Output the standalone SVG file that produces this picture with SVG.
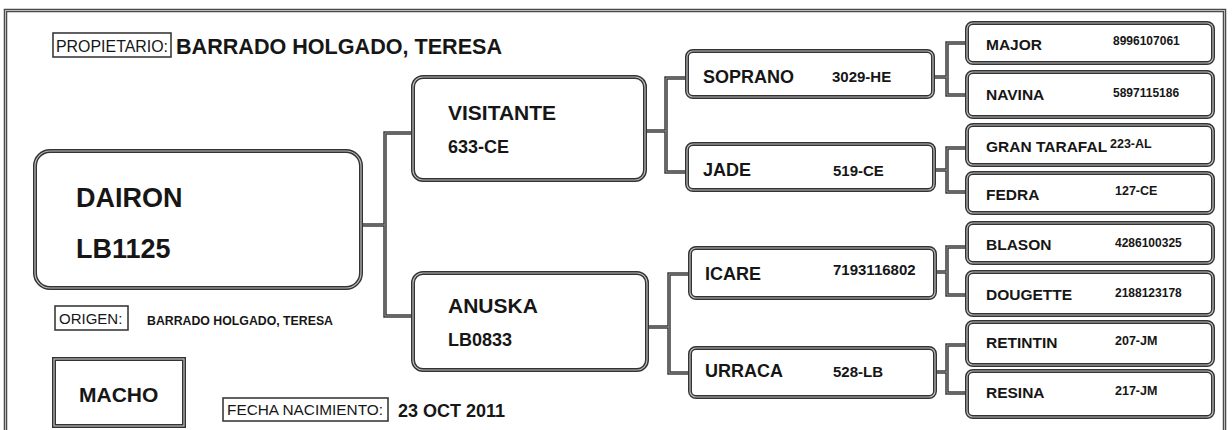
<svg xmlns="http://www.w3.org/2000/svg" width="1232" height="430" viewBox="0 0 1232 430">
<style>
.bg{fill:#fff}
.frame{fill:none;stroke:#4a4a4a;stroke-width:3.5}
.frameI{fill:none;stroke:#bbb;stroke-width:1}
.b{fill:#fff;stroke:#333;stroke-width:4}
.bi{fill:none;stroke:#bdbdbd;stroke-width:1.2}
.lb{fill:#fff;stroke:#3a3a3a;stroke-width:1.6}
.c{fill:none;stroke:#3c3c3c;stroke-width:3.5}
.ci{fill:none;stroke:#9a9a9a;stroke-width:0.9}
text{font-family:"Liberation Sans",Arial,sans-serif;fill:#161616}
.t{font-weight:bold}
.n{font-weight:normal}
</style>
<rect class="bg" x="0" y="0" width="1232" height="430"/>
<rect class="frame" x="5.5" y="10.5" width="1219" height="440"/>
<rect class="frameI" x="5.5" y="10.5" width="1219" height="440"/>

<g id="header">
<rect class="lb" x="53" y="33" width="118" height="24"/>
<text class="n" x="56" y="51.5" font-size="16" textLength="112" lengthAdjust="spacingAndGlyphs">PROPIETARIO:</text>
<text class="t" x="176" y="54" font-size="22" textLength="326" lengthAdjust="spacingAndGlyphs">BARRADO HOLGADO, TERESA</text>
</g>

<g id="connectors">
<path class="c" d="M361,225 H385 M413,133 H385 V316 H413"/>
<path class="c" d="M645,131 H666 M687,78 H666 V172 H687"/>
<path class="c" d="M647,327 H669 M690,274 H669 V373 H690"/>
<path class="c" d="M933,77 H947 M967,43 H947 V95 H967"/>
<path class="c" d="M934,170 H947 M967,148 H947 V192 H967"/>
<path class="c" d="M935,272 H947 M967,247 H947 V295 H967"/>
<path class="c" d="M935,372 H947 M967,345 H947 V393 H967"/>
<path class="ci" d="M361,225 H385 M413,133 H385 V316 H413 M645,131 H666 M687,78 H666 V172 H687 M647,327 H669 M690,274 H669 V373 H690 M933,77 H947 M967,43 H947 V95 H967 M934,170 H947 M967,148 H947 V192 H967 M935,272 H947 M967,247 H947 V295 H967 M935,372 H947 M967,345 H947 V393 H967"/>
</g>

<g id="dairon">
<rect class="b" x="35" y="151" width="326" height="137" rx="15"/>
<rect class="bi" x="35" y="151" width="326" height="137" rx="15"/>
<text class="t" x="76" y="207" font-size="27">DAIRON</text>
<text class="t" x="76" y="258" font-size="27">LB1125</text>
</g>

<g id="origen">
<rect class="lb" x="55" y="306" width="73" height="24"/>
<text class="n" x="59" y="324" font-size="15">ORIGEN:</text>
<text class="t" x="147" y="325" font-size="13" textLength="186" lengthAdjust="spacingAndGlyphs">BARRADO HOLGADO, TERESA</text>
</g>

<g id="sexo">
<rect class="b" x="54" y="359" width="130" height="67"/>
<rect class="bi" x="54" y="359" width="130" height="67"/>
<text class="t" x="79" y="402" font-size="21">MACHO</text>
</g>

<g id="fecha">
<rect class="lb" x="223" y="398" width="165" height="23"/>
<text class="n" x="227" y="415" font-size="15" textLength="156" lengthAdjust="spacingAndGlyphs">FECHA NACIMIENTO:</text>
<text class="t" x="398" y="417" font-size="18">23 OCT 2011</text>
</g>

<g id="visitante">
<rect class="b" x="413" y="77" width="232" height="103" rx="10"/>
<rect class="bi" x="413" y="77" width="232" height="103" rx="10"/>
<text class="t" x="448" y="120" font-size="21">VISITANTE</text>
<text class="t" x="448" y="153" font-size="18">633-CE</text>
</g>

<g id="anuska">
<rect class="b" x="413" y="273" width="234" height="97" rx="10"/>
<rect class="bi" x="413" y="273" width="234" height="97" rx="10"/>
<text class="t" x="448" y="313" font-size="21">ANUSKA</text>
<text class="t" x="448" y="346" font-size="18">LB0833</text>
</g>

<g id="soprano">
<rect class="b" x="687" y="51" width="246" height="46" rx="6"/>
<rect class="bi" x="687" y="51" width="246" height="46" rx="6"/>
<text class="t" x="703" y="83" font-size="18">SOPRANO</text>
<text class="t" x="832" y="82" font-size="15">3029-HE</text>
</g>

<g id="jade">
<rect class="b" x="687" y="144" width="247" height="46" rx="6"/>
<rect class="bi" x="687" y="144" width="247" height="46" rx="6"/>
<text class="t" x="703" y="176" font-size="18">JADE</text>
<text class="t" x="833" y="176" font-size="15">519-CE</text>
</g>

<g id="icare">
<rect class="b" x="690" y="248" width="245" height="50" rx="6"/>
<rect class="bi" x="690" y="248" width="245" height="50" rx="6"/>
<text class="t" x="705" y="280" font-size="18">ICARE</text>
<text class="t" x="833" y="275" font-size="15">7193116802</text>
</g>

<g id="urraca">
<rect class="b" x="690" y="348" width="245" height="49" rx="6"/>
<rect class="bi" x="690" y="348" width="245" height="49" rx="6"/>
<text class="t" x="705" y="377" font-size="18">URRACA</text>
<text class="t" x="833" y="377" font-size="15">528-LB</text>
</g>

<g id="major">
<rect class="b" x="967" y="23" width="246" height="40" rx="6"/>
<rect class="bi" x="967" y="23" width="246" height="40" rx="6"/>
<text class="t" x="986" y="50" font-size="15.5">MAJOR</text>
<text class="t" x="1113" y="45" font-size="12">8996107061</text>
</g>

<g id="navina">
<rect class="b" x="967" y="72" width="246" height="45" rx="6"/>
<rect class="bi" x="967" y="72" width="246" height="45" rx="6"/>
<text class="t" x="986" y="100" font-size="15.5">NAVINA</text>
<text class="t" x="1113" y="97" font-size="12">5897115186</text>
</g>

<g id="gran-tarafal">
<rect class="b" x="967" y="125" width="246" height="40" rx="6"/>
<rect class="bi" x="967" y="125" width="246" height="40" rx="6"/>
<text class="t" x="986" y="152" font-size="15.5">GRAN TARAFAL</text>
<text class="t" x="1110" y="148" font-size="12.5">223-AL</text>
</g>

<g id="fedra">
<rect class="b" x="967" y="173" width="246" height="40" rx="6"/>
<rect class="bi" x="967" y="173" width="246" height="40" rx="6"/>
<text class="t" x="986" y="200" font-size="15.5">FEDRA</text>
<text class="t" x="1115" y="195" font-size="12.5">127-CE</text>
</g>

<g id="blason">
<rect class="b" x="967" y="223" width="246" height="40" rx="6"/>
<rect class="bi" x="967" y="223" width="246" height="40" rx="6"/>
<text class="t" x="986" y="250" font-size="15.5">BLASON</text>
<text class="t" x="1115" y="247" font-size="12">4286100325</text>
</g>

<g id="dougette">
<rect class="b" x="967" y="272" width="246" height="43" rx="6"/>
<rect class="bi" x="967" y="272" width="246" height="43" rx="6"/>
<text class="t" x="986" y="300" font-size="15.5">DOUGETTE</text>
<text class="t" x="1115" y="297" font-size="12">2188123178</text>
</g>

<g id="retintin">
<rect class="b" x="967" y="322" width="246" height="43" rx="6"/>
<rect class="bi" x="967" y="322" width="246" height="43" rx="6"/>
<text class="t" x="986" y="348" font-size="15.5">RETINTIN</text>
<text class="t" x="1115" y="345" font-size="12.5">207-JM</text>
</g>

<g id="resina">
<rect class="b" x="967" y="371" width="246" height="46" rx="6"/>
<rect class="bi" x="967" y="371" width="246" height="46" rx="6"/>
<text class="t" x="986" y="398" font-size="15.5">RESINA</text>
<text class="t" x="1115" y="395" font-size="12.5">217-JM</text>
</g>
</svg>
